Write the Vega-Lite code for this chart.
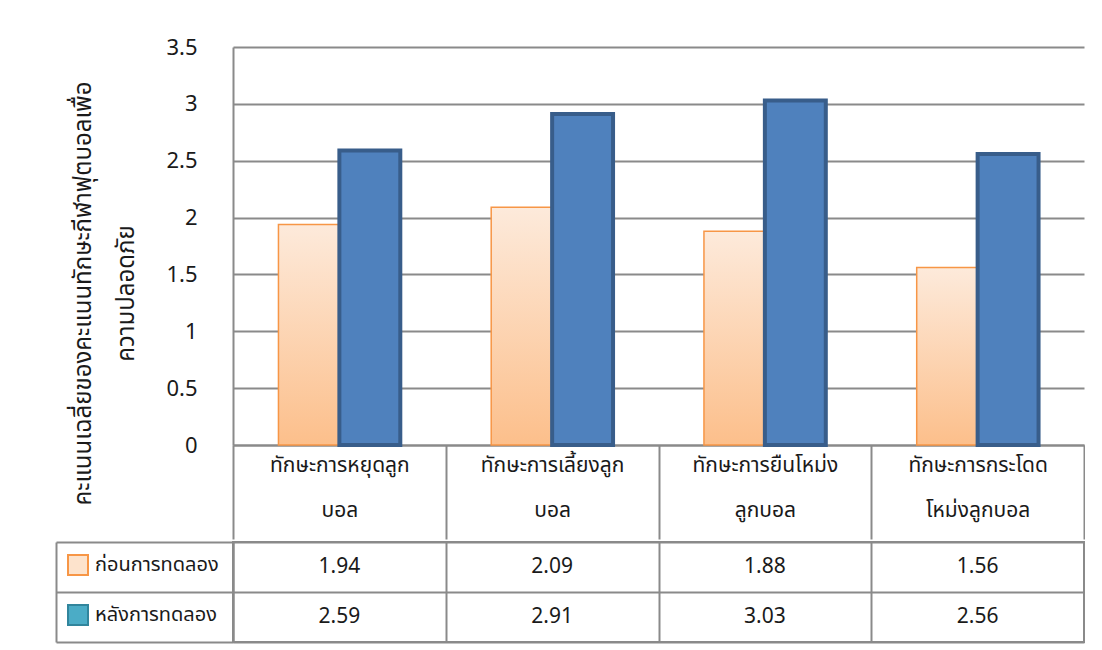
{
  "$schema": "https://vega.github.io/schema/vega-lite/v6.json",
  "padding": {"left": 54, "top": 36, "right": 0, "bottom": 0},
  "background": "white",
  "spacing": 0,
  "config": {
    "font": "Noto Sans Thai, Noto Sans, sans-serif"
  },
  "datasets": {
    "scores": [
      {"skill": "ทักษะการหยุดลูกบอล", "phase": "ก่อนการทดลอง", "score": 1.94},
      {"skill": "ทักษะการหยุดลูกบอล", "phase": "หลังการทดลอง", "score": 2.59},
      {"skill": "ทักษะการเลี้ยงลูกบอล", "phase": "ก่อนการทดลอง", "score": 2.09},
      {"skill": "ทักษะการเลี้ยงลูกบอล", "phase": "หลังการทดลอง", "score": 2.91},
      {"skill": "ทักษะการยืนโหม่งลูกบอล", "phase": "ก่อนการทดลอง", "score": 1.88},
      {"skill": "ทักษะการยืนโหม่งลูกบอล", "phase": "หลังการทดลอง", "score": 3.03},
      {"skill": "ทักษะการกระโดดโหม่งลูกบอล", "phase": "ก่อนการทดลอง", "score": 1.56},
      {"skill": "ทักษะการกระโดดโหม่งลูกบอล", "phase": "หลังการทดลอง", "score": 2.56}
    ]
  },
  "data": {"name": "scores"},
  "vconcat": [
    {
      "width": 851,
      "height": 398,
      "view": {"stroke": null},
      "encoding": {
        "x": {
          "field": "skill", "type": "nominal", "sort": null,
          "scale": {"paddingInner": 0, "paddingOuter": 0},
          "axis": {
            "title": null, "labelAngle": 0,
            "labelExpr": "datum.label === 'ทักษะการหยุดลูกบอล' ? ['ทักษะการหยุดลูก', 'บอล'] : datum.label === 'ทักษะการเลี้ยงลูกบอล' ? ['ทักษะการเลี้ยงลูก', 'บอล'] : datum.label === 'ทักษะการยืนโหม่งลูกบอล' ? ['ทักษะการยืนโหม่ง', 'ลูกบอล'] : datum.label === 'ทักษะการกระโดดโหม่งลูกบอล' ? ['ทักษะการกระโดด', 'โหม่งลูกบอล'] : ''",
            "labelFontSize": 21, "labelColor": "#1a1a1a", "labelBaseline": "top",
            "labelLineHeight": 45, "labelPadding": -85, "labelLimit": 300,
            "ticks": true, "tickBand": "extent", "tickSize": 94,
            "tickColor": "#8a8a8a", "tickWidth": 2,
            "domainColor": "#8a8a8a", "domainWidth": 2, "grid": false
          }
        },
        "xOffset": {
          "field": "phase", "type": "nominal", "sort": null,
          "scale": {"domain": ["ก่อนการทดลอง", "หลังการทดลอง"], "paddingInner": 0, "paddingOuter": 0.746}
        },
        "y": {
          "field": "score", "type": "quantitative",
          "scale": {"domain": [0, 3.5], "nice": false},
          "axis": {
            "values": [0, 0.5, 1, 1.5, 2, 2.5, 3, 3.5], "format": "~g",
            "labelFontSize": 22, "labelColor": "#1a1a1a", "labelPadding": 36,
            "ticks": false, "grid": true, "gridColor": "#8a8a8a", "gridWidth": 2,
            "domainColor": "#8a8a8a", "domainWidth": 2,
            "title": ["คะแนนเฉลี่ยของคะแนนทักษะกีฬาฟุตบอลเพื่อ", "ความปลอดภัย"],
            "titleFontSize": 24, "titleFontWeight": "normal", "titleColor": "#1a1a1a",
            "titleAngle": -90, "titleX": -150, "titleY": 246,
            "titleBaseline": "middle", "titleAlign": "center", "titleLineHeight": 43
          }
        }
      },
      "layer": [
        {
          "transform": [{"filter": "datum.phase === 'ก่อนการทดลอง'"}],
          "mark": {
            "type": "bar",
            "fill": {"gradient": "linear", "x1": 0, "y1": 0, "x2": 0, "y2": 1,
              "stops": [{"offset": 0, "color": "#fdeadb"}, {"offset": 1, "color": "#fcbf8b"}]},
            "stroke": "#f79646", "strokeWidth": 1.5
          }
        },
        {
          "transform": [{"filter": "datum.phase === 'หลังการทดลอง'"}],
          "mark": {"type": "bar", "fill": "#4f81bd", "stroke": "#385d8a", "strokeWidth": 4}
        }
      ]
    },
    {
      "width": 851,
      "height": 100,
      "view": {"stroke": "#8a8a8a", "strokeWidth": 2},
      "encoding": {
        "x": {
          "field": "skill", "type": "nominal", "sort": null,
          "scale": {"paddingInner": 0, "paddingOuter": 0},
          "axis": {"title": null, "labels": false, "ticks": false, "domain": false,
            "grid": true, "tickBand": "extent", "gridColor": "#8a8a8a", "gridWidth": 2}
        }
      },
      "layer": [
        {
          "mark": {"type": "text", "fontSize": 21, "color": "#1a1a1a"},
          "encoding": {
            "y": {
              "field": "phase", "type": "nominal", "sort": null,
              "scale": {"domain": ["ก่อนการทดลอง", "หลังการทดลอง"], "paddingInner": 0, "paddingOuter": 0},
              "axis": {"title": null, "labels": false, "ticks": true, "tickBand": "extent",
                "tickSize": 177, "tickColor": "#8a8a8a", "tickWidth": 2,
                "grid": true, "gridColor": "#8a8a8a", "gridWidth": 2,
                "domainColor": "#8a8a8a", "domainWidth": 2}
            },
            "text": {"field": "score", "type": "quantitative", "format": ".2f"}
          }
        },
        {
          "mark": {"type": "square", "size": 0, "opacity": 1},
          "encoding": {
            "y": {
              "field": "phase", "type": "nominal", "sort": null,
              "scale": {"domain": ["ก่อนการทดลอง", "หลังการทดลอง"], "paddingInner": 0, "paddingOuter": 0},
              "axis": {"title": null, "orient": "left", "offset": 177, "labels": false, "ticks": false,
                "grid": false, "domainColor": "#8a8a8a", "domainWidth": 2}
            },
            "color": {
              "field": "phase", "type": "nominal",
              "scale": {"domain": ["ก่อนการทดลอง", "หลังการทดลอง"], "range": ["#fde3cc", "#4bacc6"]},
              "legend": {"title": null, "orient": "none", "legendX": -166, "legendY": 507,
                "symbolType": "square", "symbolSize": 400, "symbolStrokeWidth": 2,
                "labelFontSize": 20, "labelColor": "#1a1a1a", "labelOffset": 6,
                "rowPadding": 22, "labelLimit": 300}
            },
            "stroke": {
              "field": "phase", "type": "nominal",
              "scale": {"domain": ["ก่อนการทดลอง", "หลังการทดลอง"], "range": ["#f79646", "#31859c"]},
              "legend": {"title": null, "orient": "none", "legendX": -166, "legendY": 507,
                "symbolType": "square", "symbolSize": 400, "symbolStrokeWidth": 2,
                "labelFontSize": 20, "labelColor": "#1a1a1a", "labelOffset": 6,
                "rowPadding": 22, "labelLimit": 300}
            }
          }
        }
      ],
      "resolve": {"axis": {"y": "independent"}}
    }
  ]
}
